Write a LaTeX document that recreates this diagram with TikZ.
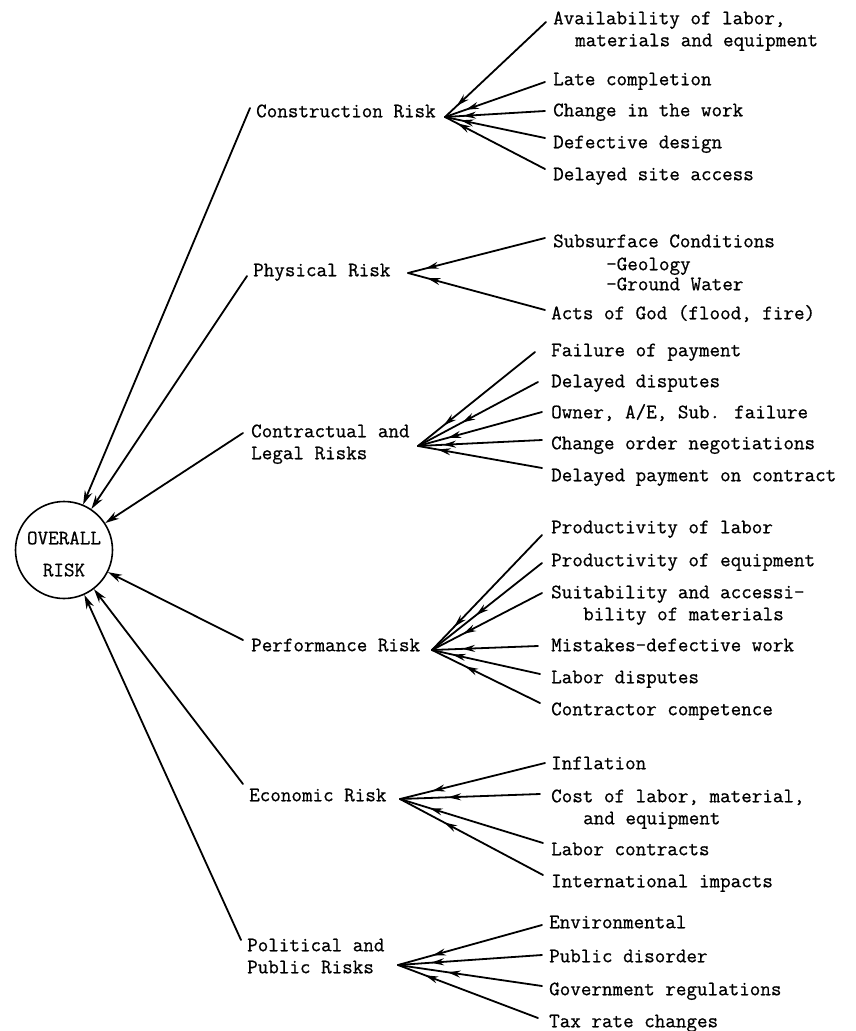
\documentclass[tikz,border=0pt]{standalone}
\usepackage{fontspec}
\newfontfamily\tw[FakeBold=0.7]{Latin Modern Mono}
\usetikzlibrary{arrows.meta,decorations.markings}
\begin{document}
\begin{tikzpicture}[x=1pt,y=-1pt,
  twf/.style={font={\tw\fontsize{20.5pt}{22pt}\selectfont}},
  tw/.style={twf, inner sep=0pt, text height=12.5pt, text depth=0pt, anchor=west},
  ln/.style={line width=1.8pt, line cap=round},
  lf/.style={ln, postaction={decorate}, decoration={markings, mark=at position -#1 with {\arrow{Stealth[length=13pt,width=7pt]}}}},
  cat/.style={ln, -{Stealth[length=14pt,width=8pt]}}]
\useasboundingbox (0,0) rectangle (856,1031);

% centre
\node[draw, circle, line width=1.6pt, minimum size=97pt, inner sep=0pt] (ov) at (64,550) {};
\node[twf, align=center, inner sep=0pt] (ovt) at (64,554) {OVERALL\\[10pt]RISK};

% categories
\node[tw] (cC) at (256,111) {Construction Risk};
\node[tw] (cP) at (253,270) {Physical Risk};
\node[tw] (cL) at (251,431) {Contractual and};
\node[tw] (cL2) at (251,453) {Legal Risks};
\node[tw] (cPe) at (251,645) {Performance Risk};
\node[tw] (cE) at (249,795) {Economic Risk};
\node[tw] (cPo) at (247,945) {Political and};
\node[tw] (cPo2) at (247,967) {Public Risks};

\coordinate (sC) at (250,108);
\coordinate (sP) at (247,276);
\coordinate (sL) at (243,433);
\coordinate (sPe) at (243,640);
\coordinate (sE) at (243,784);
\coordinate (sPo) at (241,940);

\draw[cat] (sC) -- (ov);
\draw[cat] (sP) -- (ov);
\draw[cat] (sL) -- (ov);
\draw[cat] (sPe) -- (ov);
\draw[cat] (sE) -- (ov);
\draw[cat] (sPo) -- (ov);

% hubs
\coordinate (hC) at (445,117);
\coordinate (hP) at (408,273);
\coordinate (hL) at (418,446);
\coordinate (hPe) at (432,650);
\coordinate (hE) at (400,799);
\coordinate (hPo) at (398,965);

% construction leaves
\node[tw] (a1) at (553,18) {Availability of labor,};
\node[tw] (a1b) at (575,40) {materials and equipment};
\node[tw] (a2) at (553,79) {Late completion};
\node[tw] (a3) at (553,110) {Change in the work};
\node[tw] (a4) at (553,142) {Defective design};
\node[tw] (a5) at (553,174) {Delayed site access};
\draw[lf=16pt] ([shift={(-7,4)}]a1.west) -- (hC);
\draw[lf=22pt] ([shift={(-8,3)}]a2.west) -- (hC);
\draw[lf=18pt] ([shift={(-8,1)}]a3.west) -- (hC);
\draw[lf=16pt] ([shift={(-8,-4)}]a4.west) -- (hC);
\draw[lf=14pt] ([shift={(-8,-5)}]a5.west) -- (hC);

% physical leaves
\node[tw] (b1) at (553,241) {Subsurface Conditions};
\node[tw] (b1b) at (606,264) {-Geology};
\node[tw] (b1c) at (606,284) {-Ground Water};
\node[tw] (b2) at (551,313) {Acts of God (flood, fire)};
\draw[lf=18pt] ([shift={(-8,-3)}]b1.west) -- (hP);
\draw[lf=20pt] ([shift={(-6,-3)}]b2.west) -- (hP);

% contractual leaves
\node[tw] (c1) at (551,350) {Failure of payment};
\node[tw] (c2) at (551,381) {Delayed disputes};
\node[tw] (c3) at (551,412) {Owner, A/E, Sub. failure};
\node[tw] (c4) at (551,443) {Change order negotiations};
\node[tw] (c5) at (551,475) {Delayed payment on contract};
\draw[lf=33pt] ([shift={(-16,2)}]c1.west) -- (hL);
\draw[lf=50pt] ([shift={(-13,1)}]c2.west) -- (hL);
\draw[lf=31pt] ([shift={(-9,0)}]c3.west) -- (hL);
\draw[lf=25pt] ([shift={(-9,-3)}]c4.west) -- (hL);
\draw[lf=20pt] ([shift={(-9,-7)}]c5.west) -- (hL);

% performance leaves
\node[tw] (d1) at (551,527) {Productivity of labor};
\node[tw] (d2) at (551,560) {Productivity of equipment};
\node[tw] (d3) at (551,592) {Suitability and accessi-};
\node[tw] (d3b) at (583,614) {bility of materials};
\node[tw] (d4) at (551,645) {Mistakes-defective work};
\node[tw] (d5) at (551,677) {Labor disputes};
\node[tw] (d6) at (551,709) {Contractor competence};
\draw[lf=32pt] ([shift={(-9,8)}]d1.west) -- (hPe);
\draw[lf=56pt] ([shift={(-9,3)}]d2.west) -- (hPe);
\draw[lf=35pt] ([shift={(-9,1)}]d3.west) -- (hPe);
\draw[lf=30pt] ([shift={(-13,1)}]d4.west) -- (hPe);
\draw[lf=21pt] ([shift={(-11,-3)}]d5.west) -- (hPe);
\draw[lf=37pt] ([shift={(-11,-6)}]d6.west) -- (hPe);

% economic leaves
\node[tw] (e1) at (551,763) {Inflation};
\node[tw] (e2) at (551,796) {Cost of labor, material,};
\node[tw] (e2b) at (583,818) {and equipment};
\node[tw] (e3) at (551,849) {Labor contracts};
\node[tw] (e4) at (551,881) {International impacts};
\draw[lf=33pt] ([shift={(-6,0)}]e1.west) -- (hE);
\draw[lf=48pt] ([shift={(-11,-2)}]e2.west) -- (hE);
\draw[lf=31pt] ([shift={(-8,-6)}]e3.west) -- (hE);
\draw[lf=50pt] ([shift={(-8,-6)}]e4.west) -- (hE);

% political leaves
\node[tw] (f1) at (549,922) {Environmental};
\node[tw] (f2) at (549,956) {Public disorder};
\node[tw] (f3) at (549,989) {Government regulations};
\node[tw] (f4) at (549,1021) {Tax rate changes};
\draw[lf=36pt] ([shift={(-7,3)}]f1.west) -- (hPo);
\draw[lf=33pt] ([shift={(-7,-1)}]f2.west) -- (hPo);
\draw[lf=50pt] ([shift={(-7,-3)}]f3.west) -- (hPo);
\draw[lf=29pt] ([shift={(-11,-3)}]f4.west) -- (hPo);
\end{tikzpicture}
\end{document}
